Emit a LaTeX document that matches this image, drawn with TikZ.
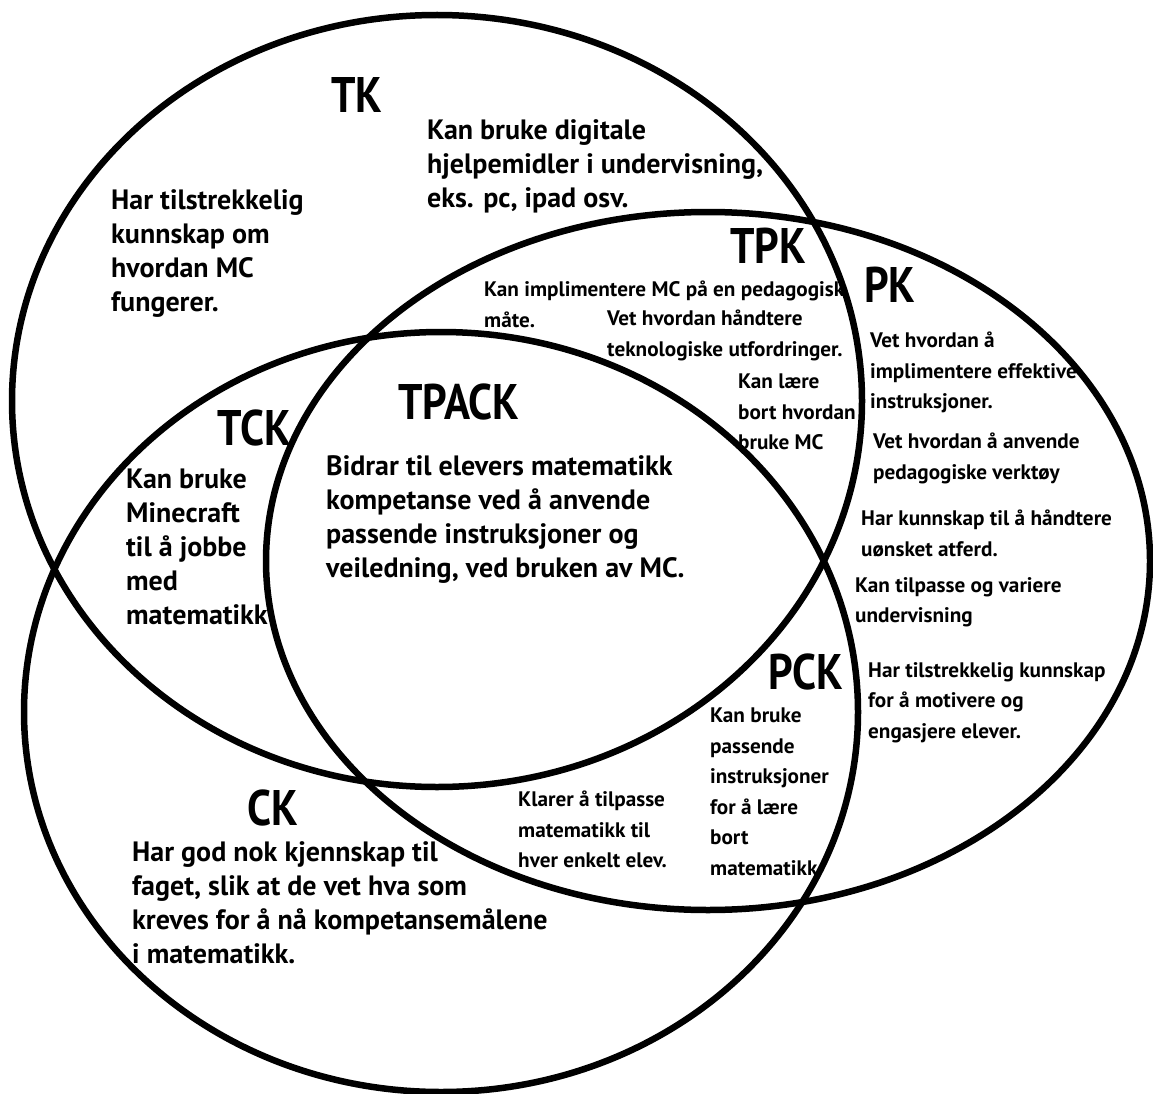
\documentclass[tikz,border=0pt]{standalone}
\usepackage{fontspec}
\setmainfont{PT Sans}
\newfontfamily\headfont{PT Sans}[FakeStretch=0.86]
\newfontfamily\txtfont{PT Sans}
\newfontfamily\notefont{PT Sans}[FakeStretch=1.01]
\usepackage{tikz}

\tikzset{
  ring/.style={line width=6.5pt},
  head/.style={font=\headfont\fontsize{50}{50}\selectfont\bfseries, inner sep=0pt},
  txt/.style={font=\txtfont\fontsize{28}{34}\selectfont\bfseries, align=left, anchor=north west, inner sep=0pt},
  note/.style={font=\notefont\fontsize{21}{30.5}\selectfont\bfseries, align=left, anchor=north west, inner sep=0pt}
}

\begin{document}
\begin{tikzpicture}[x=1pt,y=-1pt]
    \useasboundingbox (0,0) rectangle (1153,1094);
    \coordinate (tk) at (437,401);
    \coordinate (pk) at (708,561);
    \coordinate (ck) at (441,712);

    \draw[ring] (tk) ellipse [x radius=425pt, y radius=386pt];
    \draw[ring] (pk) ellipse [x radius=442pt, y radius=349pt];
    \draw[ring] (ck) ellipse [x radius=417pt, y radius=380pt];

    \node[head] (tkh) at (357,95) {TK};
    \node[head] (tpackh) at (459,402) {TPACK};
    \node[head] (tckh) at (254,428) {TCK};
    \node[head] (tpkh) at (768,246) {TPK};
    \node[head] (pkh) at (890,285) {PK};
    \node[head] (pckh) at (806,672) {PCK};
    \node[head] (ckh) at (273,808) {CK};

    \node[txt] (tk1) at (111,189) {Har tilstrekkelig\\kunnskap om\\hvordan MC\\fungerer.};
    \node[txt] (tk2) at (427,119) {Kan bruke digitale\\hjelpemidler i undervisning,\\eks. pc, ipad osv.};
    \node[txt] (tck1) at (126,469) {Kan bruke\\Minecraft\\til å jobbe\\med\\matematikk};
    \node[txt] (tpack1) at (326,455) {Bidrar til elevers matematikk\\kompetanse ved å anvende\\passende instruksjoner og\\veiledning, ved bruken av MC.};
    \node[txt] (ck1) at (132,841) {Har god nok kjennskap til\\faget, slik at de vet hva som\\kreves for å nå kompetansemålene\\i matematikk.};

    \node[note] (tpk1) at (484,281) {Kan implimentere MC på en pedagogisk\\måte.};
    \node[note] (tpk2) at (607,310) {Vet hvordan håndtere\\teknologiske utfordringer.};
    \node[note] (tpk3) at (738,374) {Kan lære\\bort hvordan\\bruke MC};
    \node[note] (pk1) at (870,332) {Vet hvordan å\\implimentere effektive\\instruksjoner.};
    \node[note] (pk2) at (873,433) {Vet hvordan å anvende\\pedagogiske verktøy};
    \node[note] (pk3) at (861,510) {Har kunnskap til å håndtere\\uønsket atferd.};
    \node[note] (pk4) at (855,577) {Kan tilpasse og variere\\undervisning};
    \node[note] (pk5) at (868,662) {Har tilstrekkelig kunnskap\\for å motivere og\\engasjere elever.};
    \node[note] (pck1) at (710,708) {Kan bruke\\passende\\instruksjoner\\for å lære\\bort\\matematikk};
    \node[note] (pck2) at (518,791) {Klarer å tilpasse\\matematikk til\\hver enkelt elev.};
\end{tikzpicture}
\end{document}
